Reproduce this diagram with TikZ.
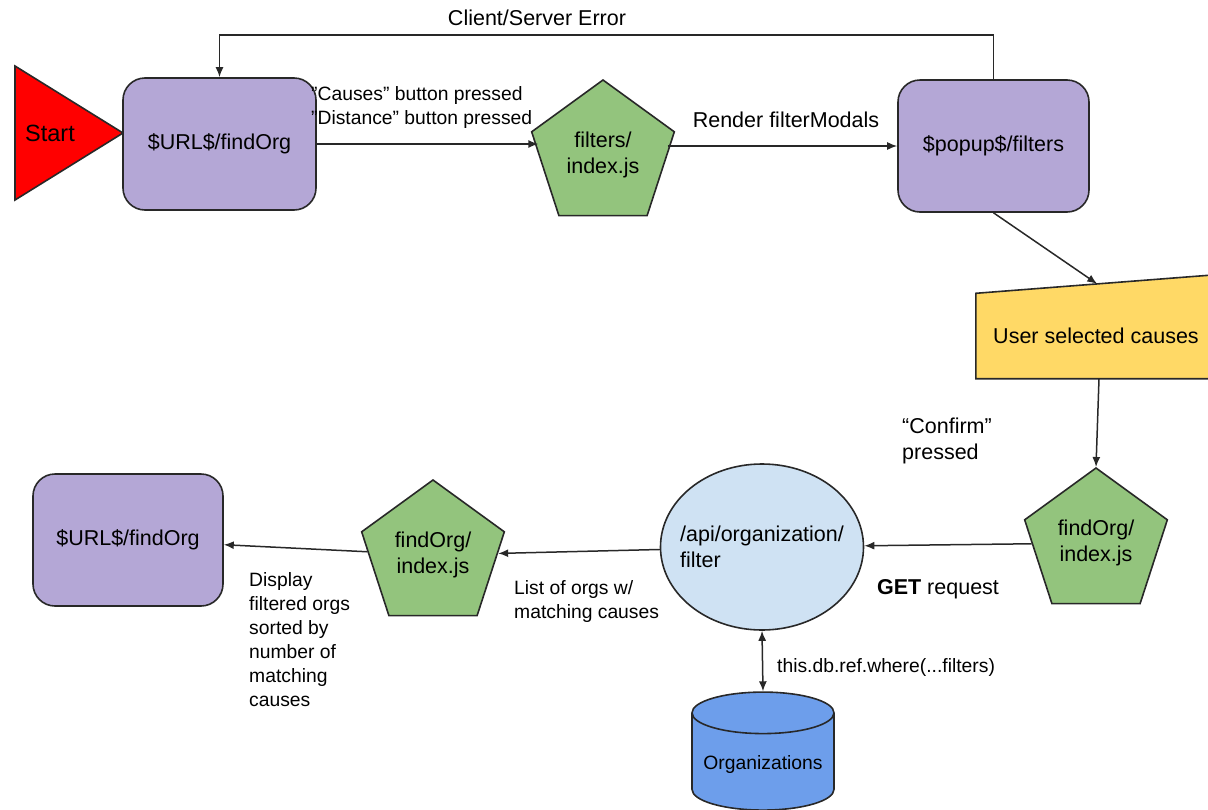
\documentclass[tikz,border=0pt]{standalone}
\usepackage{fontspec}
\setmainfont{Liberation Sans}
\usetikzlibrary{shapes.geometric,arrows.meta,calc,backgrounds}
\definecolor{mypurple}{RGB}{180,167,214}
\definecolor{mygreen}{RGB}{147,196,125}
\definecolor{myyellow}{RGB}{255,217,102}
\definecolor{mylightblue}{RGB}{207,226,243}
\definecolor{myblue}{RGB}{109,158,235}
\definecolor{myred}{RGB}{255,0,0}
\definecolor{myline}{RGB}{40,40,40}
\newcommand{\nodefont}{\fontsize{21.5}{25.5}\selectfont}
\newcommand{\labelfont}{\fontsize{19.3}{24}\selectfont}
\tikzset{
    page box/.style={draw=myline,line width=1.6pt,fill=mypurple,rounded corners=22pt,minimum width=193pt,minimum height=132pt,font=\nodefont},
    js pent/.style={draw=myline,line width=1.6pt,fill=mygreen,regular polygon,regular polygon sides=5,minimum size=150pt,inner sep=0pt,align=center,font=\nodefont},
    flow/.style={line width=1.5pt,myline,-{Latex[length=10pt,width=8pt]}},
    note/.style={align=left,anchor=west,inner sep=0pt,font=\labelfont},
}
\begin{document}
\begin{tikzpicture}[x=1pt,y=-1pt]
            \useasboundingbox (0,0) rectangle (1208,809);
            \draw[myline,line width=1.6pt,fill=myred] (15,66) -- (123,133) -- (15,200) -- cycle;
            \node[font=\fontsize{23.5}{28}\selectfont] (start) at (50,133) {Start};
            \node[page box] (url1) at (219.5,144) {\$URL\$/findOrg};
            \node[js pent] (filt) at (603,155) {filters/\\index.js};
            \node[page box,minimum width=191pt] (pop) at (993.5,146) {\$popup\$/filters};
            \node[minimum width=240pt,minimum height=85pt,font=\nodefont] (sel) at (1096,336) {User selected causes};
            \begin{pgfonlayer}{background}
            \draw[myline,line width=1.6pt,fill=myyellow] (sel.south west) -- (sel.south east) -- ([yshift=18.6pt]sel.north east) -- (sel.north west) -- cycle;
            \end{pgfonlayer}
            \coordinate (seltop) at ($(sel.north west)!0.505!([yshift=18.6pt]sel.north east)$);
            \node[js pent] (find3) at (1096,543) {findOrg/\\index.js};
            \node[ellipse,draw=myline,line width=1.6pt,fill=mylightblue,inner xsep=-11pt,minimum width=203pt,minimum height=166pt,align=left,font=\nodefont] (api) at (762,547) {/api/organization/\\filter};
            \node[js pent] (find2) at (433,555) {findOrg/\\index.js};
            \node[page box,minimum width=190pt] (url2) at (128,540) {\$URL\$/findOrg};
            \node[cylinder,shape border rotate=90,aspect=0.33,draw=myline,line width=1.6pt,fill=myblue,minimum width=142pt,minimum height=118pt,font=\labelfont] (orgs) at (763,765) {Organizations};
            \coordinate (err) at (600,35);
            \draw[flow] (pop.north) |- (err) -| (url1.north);
            \draw[flow] (url1.east) -- (url1.east -| filt.west);
            \draw[flow] (pop.west -| filt.east) -- (pop.west);
            \draw[flow] (pop.south) -- (seltop);
            \draw[flow] ([xshift=3pt]sel.south) -- (find3.corner 1);
            \draw[flow] (find3) -- (api);
            \draw[flow] (api) -- (find2);
            \draw[flow] (find2) -- (url2);
            \draw[flow,{Latex[length=10pt,width=8pt]}-{Latex[length=10pt,width=8pt]}] (api.south) -- (orgs.north);
            \node[font=\nodefont] (lblerror) at (537,18) {Client/Server Error};
            \node[note] (lblcause) at (311,108) {”Causes” button pressed\\”Distance” button pressed};
            \node[font=\nodefont] (lblrender) at (786,120) {Render filterModals};
            \node[note,font=\nodefont] (lblconfirm) at (902,441) {“Confirm”\\pressed};
            \node[font=\nodefont] (lblget) at (938,589) {\textbf{GET} request};
            \node[note] (lbllist) at (514,602) {List of orgs w/\\matching causes};
            \node[note] (lbldisplay) at (249,640) {Display\\filtered orgs\\sorted by\\number of\\matching\\causes};
            \node[note] (lbldb) at (777,667) {this.db.ref.where(...filters)};
        \end{tikzpicture}
\end{document}
